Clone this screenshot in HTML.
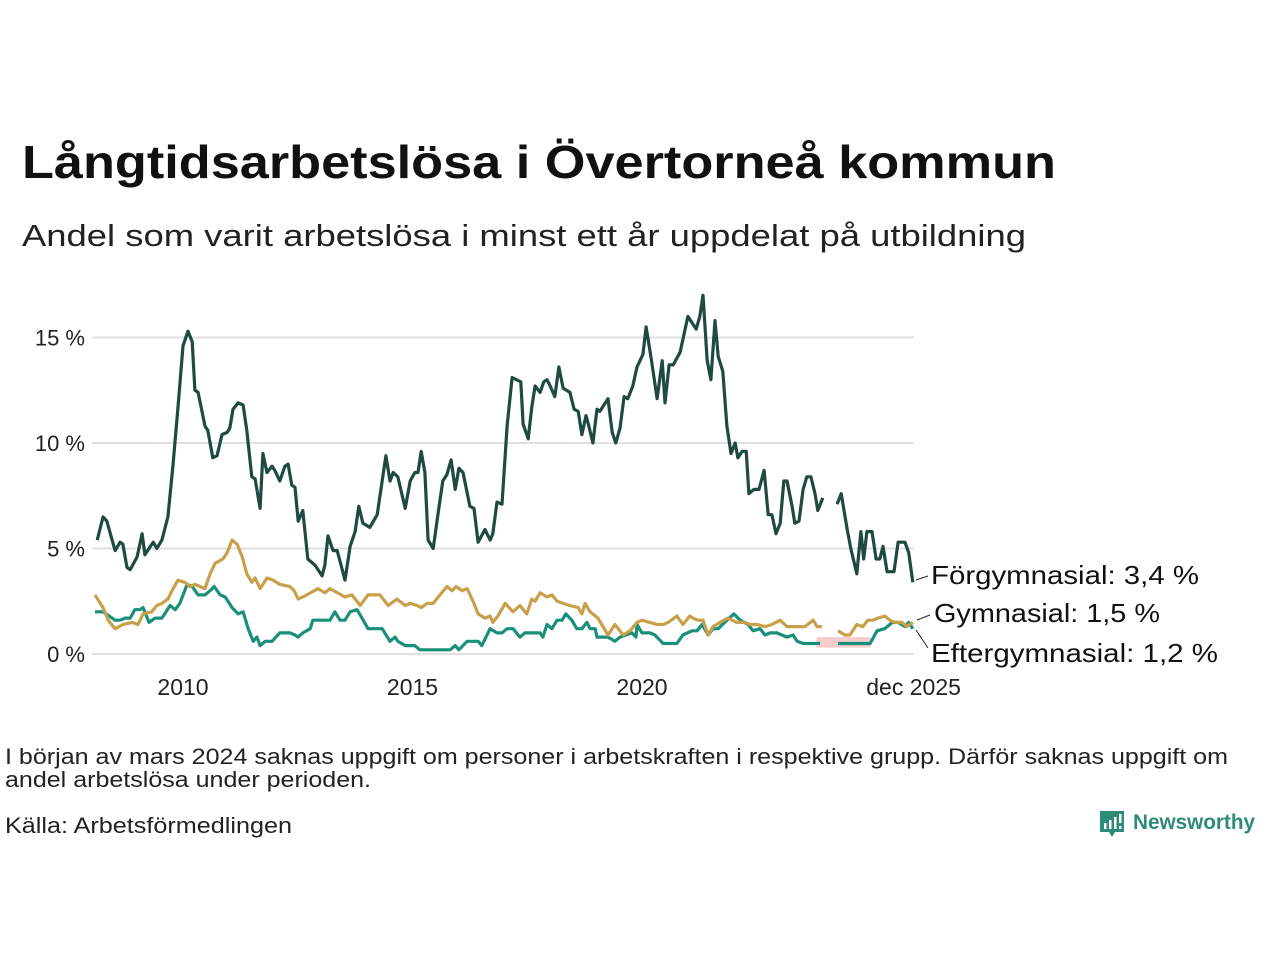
<!DOCTYPE html>
<html><head><meta charset="utf-8"><style>
html,body{margin:0;padding:0;background:#fff;}
svg{display:block;font-family:"Liberation Sans","DejaVu Sans",sans-serif;}
</style></head><body>
<svg id="chart" width="1280" height="960" viewBox="0 0 1280 960" xmlns="http://www.w3.org/2000/svg">
<text x="22" y="178" font-size="46" font-weight="bold" fill="#111" textLength="1034" lengthAdjust="spacingAndGlyphs">Långtidsarbetslösa i Övertorneå kommun</text>
<text x="22" y="246" font-size="31" fill="#222" textLength="1004" lengthAdjust="spacingAndGlyphs">Andel som varit arbetslösa i minst ett år uppdelat på utbildning</text>
<g id="grid"></g>
<g id="yticks"></g>
<g id="xticks"></g>
<g id="series"></g>
<g id="labels"></g>
<text x="5" y="764" font-size="22" fill="#222" textLength="1223" lengthAdjust="spacingAndGlyphs">I början av mars 2024 saknas uppgift om personer i arbetskraften i respektive grupp. Därför saknas uppgift om</text>
<text x="5" y="787" font-size="22" fill="#222" textLength="366" lengthAdjust="spacingAndGlyphs">andel arbetslösa under perioden.</text>
<text x="5" y="833" font-size="22" fill="#222" textLength="287" lengthAdjust="spacingAndGlyphs">Källa: Arbetsförmedlingen</text>
<g>
<path d="M1100 811 h24 v21 h-9 l-3 5 l-3 -5 h-9 z" fill="#2e8b78"/>
<rect x="1104" y="823" width="2.5" height="6" fill="#fff"/><rect x="1109" y="820" width="2.5" height="9" fill="#fff"/><rect x="1114" y="817" width="2.5" height="12" fill="#fff"/><rect x="1119" y="814" width="2.5" height="9" fill="#fff"/><rect x="1119" y="826" width="2.5" height="3" fill="#fff"/>
<text x="1133" y="829" font-size="21" font-weight="bold" fill="#2e8b78" textLength="122" lengthAdjust="spacingAndGlyphs">Newsworthy</text>
</g>
</svg>
<script>
const yTicks = [0, 5, 10, 15];
const yTickLabels = ["0 %", "5 %", "10 %", "15 %"];
const xTicks = [2010, 2015, 2020, 2025.917];
const xTickLabels = ["2010", "2015", "2020", "dec 2025"];

const forDates = [2008.13,2008.26,2008.34,2008.52,2008.63,2008.69,2008.78,2008.85,2009.00,2009.11,2009.17,2009.35,2009.43,2009.54,2009.67,2009.78,2009.89,2010.00,2010.11,2010.20,2010.26,2010.33,2010.48,2010.54,2010.65,2010.74,2010.85,2010.96,2011.02,2011.09,2011.20,2011.31,2011.39,2011.50,2011.57,2011.68,2011.74,2011.83,2011.94,2012.00,2012.11,2012.22,2012.29,2012.37,2012.44,2012.51,2012.61,2012.72,2012.88,2013.03,2013.09,2013.16,2013.27,2013.36,2013.53,2013.64,2013.75,2013.83,2013.92,2014.07,2014.23,2014.42,2014.51,2014.58,2014.68,2014.84,2014.95,2015.05,2015.12,2015.19,2015.27,2015.34,2015.45,2015.56,2015.66,2015.75,2015.84,2015.93,2016.01,2016.10,2016.25,2016.34,2016.43,2016.58,2016.69,2016.75,2016.84,2016.95,2017.06,2017.17,2017.36,2017.41,2017.52,2017.60,2017.67,2017.78,2017.86,2017.93,2018.00,2018.10,2018.19,2018.28,2018.43,2018.52,2018.61,2018.69,2018.78,2018.82,2018.93,2019.02,2019.08,2019.26,2019.35,2019.43,2019.52,2019.61,2019.69,2019.80,2019.89,2020.02,2020.09,2020.20,2020.33,2020.44,2020.50,2020.59,2020.68,2020.83,2021.00,2021.18,2021.26,2021.33,2021.42,2021.50,2021.59,2021.66,2021.76,2021.85,2021.94,2022.03,2022.09,2022.18,2022.27,2022.33,2022.44,2022.55,2022.66,2022.75,2022.83,2022.92,2023.01,2023.09,2023.16,2023.27,2023.33,2023.42,2023.51,2023.59,2023.68,2023.77,2023.83,2023.94,2024.10,2024.25,2024.34,2024.47,2024.55,2024.68,2024.77,2024.83,2024.90,2025.01,2025.10,2025.18,2025.25,2025.34,2025.49,2025.58,2025.73,2025.81,2025.90];
const forValues = [5.4,6.5,6.3,4.9,5.3,5.2,4.1,4.0,4.6,5.7,4.7,5.3,5.0,5.4,6.5,8.9,11.7,14.6,15.3,14.8,12.5,12.4,10.8,10.6,9.3,9.4,10.4,10.5,10.7,11.6,11.9,11.8,10.6,8.4,8.3,6.9,9.5,8.6,8.9,8.7,8.2,8.9,9.0,8.0,7.9,6.3,6.8,4.5,4.2,3.7,4.2,5.6,4.9,4.9,3.5,5.1,5.8,7.0,6.2,6.0,6.6,9.4,8.2,8.6,8.4,6.9,8.2,8.6,8.6,9.6,8.6,5.4,5.0,6.7,8.2,8.5,9.2,7.8,8.8,8.6,7.0,6.9,5.3,5.9,5.4,5.7,7.2,7.1,10.8,13.1,12.9,10.9,10.2,11.7,12.7,12.4,12.9,13.0,12.7,12.2,13.6,12.6,12.4,11.6,11.5,10.4,11.3,11.0,10.0,11.6,11.5,12.1,10.5,10.0,10.7,12.2,12.1,12.7,13.6,14.2,15.5,14.0,12.1,13.9,11.9,13.7,13.7,14.3,16.0,15.4,16.0,17.0,13.9,13.0,15.8,14.1,13.4,10.8,9.5,10.0,9.3,9.6,9.6,7.6,7.8,7.8,8.7,6.6,6.6,5.7,6.2,8.2,8.2,7.0,6.2,6.3,7.8,8.4,8.4,7.6,6.8,7.4,null,7.1,7.6,5.9,5.0,3.8,5.8,4.5,5.8,5.8,4.5,4.5,5.1,3.9,3.9,5.3,5.3,4.8,3.4];

const gymDates = [2008.08,2008.26,2008.37,2008.52,2008.69,2008.89,2009.02,2009.13,2009.32,2009.43,2009.54,2009.67,2009.76,2009.89,2010.04,2010.15,2010.26,2010.48,2010.59,2010.70,2010.87,2010.96,2011.07,2011.18,2011.29,2011.39,2011.50,2011.57,2011.68,2011.83,2011.96,2012.11,2012.33,2012.42,2012.51,2012.70,2012.94,2013.09,2013.20,2013.53,2013.68,2013.86,2014.03,2014.18,2014.29,2014.47,2014.66,2014.84,2014.95,2015.10,2015.19,2015.32,2015.45,2015.56,2015.75,2015.86,2015.95,2016.08,2016.19,2016.32,2016.43,2016.58,2016.69,2016.75,2016.86,2017.02,2017.19,2017.34,2017.49,2017.60,2017.67,2017.78,2017.93,2018.04,2018.15,2018.28,2018.43,2018.61,2018.69,2018.76,2018.87,2019.04,2019.26,2019.41,2019.59,2019.74,2019.89,2020.00,2020.17,2020.33,2020.46,2020.57,2020.76,2020.89,2021.04,2021.11,2021.22,2021.33,2021.44,2021.55,2021.70,2021.87,2022.07,2022.24,2022.35,2022.51,2022.68,2022.83,2023.01,2023.16,2023.38,2023.55,2023.73,2023.81,2023.92,2024.10,2024.27,2024.42,2024.53,2024.68,2024.81,2024.92,2025.03,2025.14,2025.29,2025.40,2025.51,2025.66,2025.77,2025.90];
const gymValues = [2.8,2.2,1.6,1.2,1.4,1.5,1.4,1.9,2.0,2.3,2.4,2.6,3.0,3.5,3.4,3.2,3.3,3.1,3.8,4.3,4.5,4.8,5.4,5.2,4.6,3.8,3.4,3.6,3.1,3.6,3.5,3.3,3.2,3.0,2.6,2.8,3.1,2.9,3.1,2.7,2.8,2.3,2.8,2.8,2.8,2.3,2.6,2.3,2.4,2.3,2.2,2.4,2.4,2.7,3.2,3.0,3.2,3.0,3.1,2.5,1.9,1.7,1.8,1.5,1.8,2.4,2.0,2.3,1.9,2.6,2.5,2.9,2.7,2.8,2.5,2.4,2.3,2.2,1.9,2.4,2.0,1.7,0.9,1.4,0.9,1.1,1.5,1.6,1.5,1.4,1.4,1.5,1.8,1.4,1.8,1.7,1.6,1.6,0.9,1.3,1.5,1.7,1.5,1.5,1.4,1.4,1.3,1.4,1.6,1.3,1.3,1.3,1.6,1.3,1.3,null,1.1,0.9,0.9,1.4,1.3,1.6,1.6,1.7,1.8,1.6,1.5,1.5,1.3,1.5];

const eftDates = [2008.08,2008.26,2008.52,2008.63,2008.74,2008.85,2008.95,2009.06,2009.13,2009.26,2009.39,2009.54,2009.72,2009.83,2009.93,2010.09,2010.20,2010.33,2010.48,2010.59,2010.68,2010.81,2010.92,2011.07,2011.20,2011.31,2011.42,2011.53,2011.61,2011.68,2011.79,2011.94,2012.11,2012.33,2012.44,2012.51,2012.61,2012.77,2012.83,2013.05,2013.20,2013.31,2013.42,2013.53,2013.64,2013.79,2013.90,2014.03,2014.14,2014.34,2014.51,2014.62,2014.68,2014.84,2015.05,2015.16,2015.82,2015.93,2016.01,2016.19,2016.43,2016.51,2016.69,2016.84,2016.95,2017.06,2017.19,2017.34,2017.45,2017.78,2017.84,2017.93,2018.04,2018.15,2018.26,2018.34,2018.47,2018.58,2018.69,2018.80,2018.87,2018.98,2019.02,2019.26,2019.41,2019.52,2019.78,2019.87,2019.89,2020.00,2020.17,2020.28,2020.46,2020.76,2020.89,2021.09,2021.20,2021.31,2021.44,2021.55,2021.66,2021.85,2022.00,2022.14,2022.31,2022.42,2022.57,2022.68,2022.79,2022.94,2023.05,2023.16,2023.29,2023.38,2023.51,2023.73,2023.88,2024.10,2024.27,2024.97,2025.12,2025.29,2025.45,2025.58,2025.73,2025.81,2025.90];
const eftValues = [2.0,2.0,1.6,1.6,1.7,1.7,2.1,2.1,2.2,1.5,1.7,1.7,2.3,2.1,2.4,3.3,3.2,2.8,2.8,3.0,3.2,2.8,2.7,2.2,1.9,2.0,1.2,0.6,0.8,0.4,0.6,0.6,1.0,1.0,0.9,0.8,1.0,1.2,1.6,1.6,1.6,2.0,1.6,1.6,2.0,2.1,1.7,1.2,1.2,1.2,0.6,0.8,0.6,0.4,0.4,0.2,0.2,0.4,0.2,0.6,0.6,0.4,1.2,1.0,1.0,1.2,1.2,0.8,1.0,1.0,0.8,1.4,1.2,1.6,1.6,1.9,1.6,1.2,1.2,1.5,1.2,1.2,0.8,0.8,0.6,0.8,1.0,0.8,1.4,1.0,1.0,0.9,0.5,0.5,0.9,1.1,1.1,1.4,0.9,1.2,1.2,1.6,1.9,1.6,1.4,1.1,1.2,0.9,1.0,1.0,0.9,0.8,0.9,0.6,0.5,0.5,0.5,null,0.5,0.5,1.1,1.2,1.5,1.5,1.3,1.5,1.2];

const bandDates = [2023.80, 2024.98];
const bandLow = [0.3, 0.3];
const bandHigh = [0.8, 0.8];

const seriesNames = ["Förgymnasial", "Gymnasial", "Eftergymnasial"];
const lastLabels = ["Förgymnasial: 3,4 %", "Gymnasial: 1,5 %", "Eftergymnasial: 1,2 %"];

const NS = "http://www.w3.org/2000/svg";
const X0 = 183, PXY = 45.9, Y0 = 654, PXV = 21.1;
function xs(t){ return X0 + (t - 2010) * PXY; }
function ys(v){ return Y0 - v * PXV; }
function mk(tag, attrs, parent){ const e = document.createElementNS(NS, tag); for (const k in attrs) e.setAttribute(k, attrs[k]); parent.appendChild(e); return e; }

const grid = document.getElementById('grid');
const yg = document.getElementById('yticks');
yTicks.forEach((v, i) => {
  const l = mk('line', {x1: 92, x2: 914, y1: ys(v), y2: ys(v), stroke: '#e0e0e0', 'stroke-width': 2}, grid);
  
  
  const t = mk('text', {x: 85, y: ys(v) + 8, 'text-anchor': 'end', 'font-size': 22, fill: '#222'}, yg);
  t.textContent = yTickLabels[i];
  
  
});
const xg = document.getElementById('xticks');
xTicks.forEach((v, i) => {
  const t = mk('text', {x: xs(v), y: 695, 'text-anchor': 'middle', 'font-size': 23, fill: '#222'}, xg);
  t.textContent = xTickLabels[i];
  
  
});

const sg = document.getElementById('series');
const band = mk('rect', {x: xs(bandDates[0]), y: ys(bandHigh[0]), width: xs(bandDates[1]) - xs(bandDates[0]), height: ys(bandLow[0]) - ys(bandHigh[0]), fill: '#f7cccc'}, sg);



function pathFor(dates, vals){
  let d = '', pen = false;
  for (let i = 0; i < dates.length; i++){
    if (vals[i] === null){ pen = false; continue; }
    d += (pen ? 'L' : 'M') + xs(dates[i]).toFixed(1) + ' ' + ys(vals[i]).toFixed(1) + ' ';
    pen = true;
  }
  return d;
}
const cols = ['#1f4a40', '#c9a04a', '#1a8f7a'];
const all = [[forDates, forValues], [gymDates, gymValues], [eftDates, eftValues]];
[2, 1, 0].forEach(i => {
  const p = mk('path', {d: pathFor(all[i][0], all[i][1]), fill: 'none', stroke: cols[i], 'stroke-width': 3.2, 'stroke-linejoin': 'round'}, sg);
  
  
});

const lg = document.getElementById('labels');
const labelY = [584, 622, 662];
const labelX = [931, 934, 931];
const labelW = [268, 226, 287];
const lineStart = [[916, 580], [917, 620], [916, 630]];
const lineEnd = [[928, 576], [930, 615], [928, 648]];
lastLabels.forEach((s, i) => {
  const l = mk('line', {x1: lineStart[i][0], y1: lineStart[i][1], x2: lineEnd[i][0], y2: lineEnd[i][1], stroke: '#222', 'stroke-width': 1}, lg);
  
  
  const t = mk('text', {x: labelX[i], y: labelY[i], 'font-size': 26, fill: '#111', textLength: labelW[i], lengthAdjust: 'spacingAndGlyphs'}, lg);
  t.textContent = s;
  
  
});
</script>
</body></html>
